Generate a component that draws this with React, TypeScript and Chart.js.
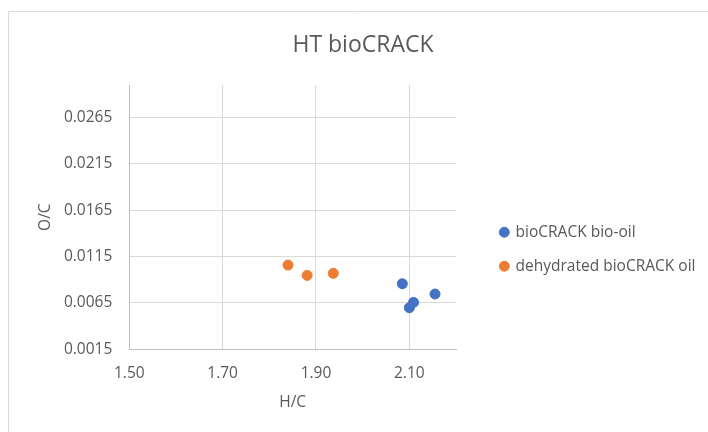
import React, { useEffect, useRef } from "react";
import { Chart, registerables } from "chart.js";

Chart.register(...registerables);

const seriesNames = ["bioCRACK bio-oil", "dehydrated bioCRACK oil"];
const bioOilX = [2.085, 2.155, 2.109, 2.1];
const bioOilY = [0.00857, 0.00746, 0.00656, 0.00598];
const dehydX = [1.84, 1.881, 1.937];
const dehydY = [0.01058, 0.00947, 0.00969];

const xTickValues = [1.5, 1.7, 1.9, 2.1];
const xTickLabels = ["1.50", "1.70", "1.90", "2.10"];
const yTickValues = [0.0015, 0.0065, 0.0115, 0.0165, 0.0215, 0.0265];
const yTickLabels = ["0.0015", "0.0065", "0.0115", "0.0165", "0.0215", "0.0265"];

const FONT = "'Open Sans', 'Noto Sans', sans-serif";
const TEXT = "#595959";
const BLUE = "#4472C4";
const ORANGE = "#ED7D31";

const layoutFix = {
  id: "layoutFix",
  beforeLayout(chart: any) {
    const lg = chart.legend;
    if (lg && !lg._patched) {
      const f = lg.fit;
      lg.fit = function () {
        f.call(this);
        this.width = 252;
      };
      lg._patched = true;
    }
  },
  afterLayout(chart: any) {
    const lg = chart.legend;
    if (lg) {
      lg.left = 482.3;
      lg.top = 206;
    }
    if (chart.titleBlock) {
      chart.titleBlock.left = 18;
    }
  },
  beforeDraw(chart: any) {
    const ctx = chart.ctx;
    ctx.save();
    ctx.fillStyle = "#ffffff";
    ctx.fillRect(0, 0, chart.width, chart.height);
    ctx.strokeStyle = "#d9d9d9";
    ctx.lineWidth = 1;
    ctx.beginPath();
    ctx.moveTo(8.5, chart.height);
    ctx.lineTo(8.5, 11.5);
    ctx.lineTo(chart.width, 11.5);
    ctx.stroke();
    ctx.restore();
  },
};

export default function App() {
  const ref = useRef<HTMLCanvasElement | null>(null);
  useEffect(() => {
    if (!ref.current) return;
    const chart = new Chart(ref.current, {
      type: "scatter",
      data: {
        datasets: [
          {
            label: seriesNames[0],
            data: bioOilX.map((x, i) => ({ x, y: bioOilY[i] })),
            backgroundColor: BLUE,
            borderColor: BLUE,
            borderWidth: 1,
            pointRadius: 5,
          },
          {
            label: seriesNames[1],
            data: dehydX.map((x, i) => ({ x, y: dehydY[i] })),
            backgroundColor: ORANGE,
            borderColor: ORANGE,
            borderWidth: 1,
            pointRadius: 5,
          },
        ],
      },
      options: {
        animation: false,
        responsive: false,
        devicePixelRatio: 1,
        layout: { padding: 0 },
        plugins: {
          tooltip: { enabled: false },
          title: {
            display: true,
            text: "HT bioCRACK",
            color: TEXT,
            font: { family: FONT, size: 23, weight: "normal" },
            padding: { top: 31.2, bottom: 26.2 },
          },
          legend: {
            position: "right",
            align: "start",
            labels: {
              usePointStyle: true,
              pointStyle: "circle",
              boxWidth: 7,
              boxHeight: 7,
              padding: 18.5,
              color: TEXT,
              font: { family: FONT, size: 15.5 },
            },
          },
        },
        scales: {
          x: {
            type: "linear",
            position: "bottom",
            min: 1.5,
            max: 2.2,
            afterBuildTicks: (s: any) => {
              s.ticks = xTickValues.map((v) => ({ value: v }));
            },
            afterFit: (s: any) => {
              s.height = 82.7;
            },
            ticks: {
              callback: (_v: any, i: number) => xTickLabels[i],
              color: TEXT,
              font: { family: FONT, size: 15.5 },
              padding: 14.7,
              maxRotation: 0,
            },
            grid: { color: "#d9d9d9", lineWidth: 1, drawTicks: false },
            border: { display: true, color: "#bfbfbf", width: 1 },
            title: {
              display: true,
              text: "H/C",
              color: TEXT,
              font: { family: FONT, size: 15.5 },
              padding: { top: 0, bottom: 20 },
            },
          },
          y: {
            type: "linear",
            position: "left",
            min: 0.0015,
            max: 0.03,
            afterBuildTicks: (s: any) => {
              s.ticks = yTickValues.map((v) => ({ value: v }));
            },
            afterFit: (s: any) => {
              s.width = 129.3;
            },
            ticks: {
              callback: (_v: any, i: number) => yTickLabels[i],
              color: TEXT,
              font: { family: FONT, size: 15.5 },
              padding: 17,
            },
            grid: { color: "#d9d9d9", lineWidth: 1, drawTicks: false },
            border: { display: true, color: "#bfbfbf", width: 1 },
            title: {
              display: true,
              text: "O/C",
              color: TEXT,
              font: { family: FONT, size: 15.5 },
              padding: { top: 36, bottom: 0 },
            },
          },
        },
      },
      plugins: [layoutFix],
    } as any);
    return () => chart.destroy();
  }, []);
  return (
    <div style={{ position: "absolute", left: 0, top: 0, width: "708px", height: "432px", background: "#fff" }}>
      <canvas ref={ref} width={708} height={432} style={{ display: "block" }} />
    </div>
  );
}
